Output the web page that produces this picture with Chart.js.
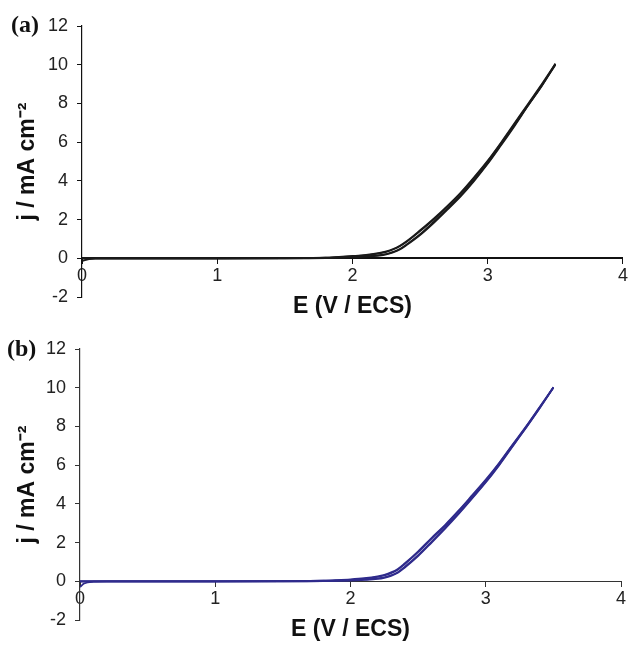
<!DOCTYPE html>
<html>
<head>
<meta charset="utf-8">
<script src="https://cdn.jsdelivr.net/npm/chart.js@4.4.1/dist/chart.umd.min.js"></script>
<style>
  body { margin: 0; background: #fff; }
  #wrap { position: relative; width: 630px; height: 646px; }
  .panel { position: absolute; left: 0; width: 630px; height: 323px; }
  .tag { position: absolute; font: bold 24px "Liberation Serif", "Times New Roman", serif; color: #111; line-height: 1; }
</style>
</head>
<body>
<div id="wrap">
  <div class="panel" style="top:0"><canvas id="chartA" width="630" height="323"></canvas><span class="tag" style="left:11px;top:12px">(a)</span></div>
  <div class="panel" style="top:323px"><canvas id="chartB" width="630" height="323"></canvas><span class="tag" style="left:7px;top:13px">(b)</span></div>
</div>
<script>
// potential sweep points, E (V / ECS)
const potential = [0, 0.03, 0.1, 0.2, 0.5, 1.0, 1.5, 1.8, 1.9, 2.0, 2.1, 2.2, 2.25, 2.3, 2.35, 2.4, 2.5, 2.6, 2.7, 2.8, 2.9, 3.0, 3.1, 3.2, 3.3, 3.4, 3.5];

// (a) current density, mA cm-2 (anodic and cathodic sweeps of two cycles)
const jA_up1   = [-0.15, -0.08, 0, 0, 0, 0, 0.01, 0.03, 0.06, 0.1, 0.15, 0.25, 0.33, 0.45, 0.62, 0.85, 1.4, 2.0, 2.65, 3.35, 4.15, 5.0, 5.95, 6.95, 7.95, 8.95, 10.0];
const jA_down1 = [0, 0, 0, 0, 0, 0, 0, 0.01, 0.03, 0.05, 0.08, 0.14, 0.2, 0.3, 0.45, 0.68, 1.2, 1.82, 2.5, 3.2, 4.0, 4.88, 5.85, 6.85, 7.9, 8.9, 10.0];
const jA_up2   = [0, 0, 0, 0, 0, 0, 0.01, 0.03, 0.07, 0.12, 0.18, 0.28, 0.36, 0.48, 0.65, 0.88, 1.45, 2.05, 2.7, 3.4, 4.2, 5.05, 6.0, 7.0, 8.0, 9.0, 10.05];
const jA_down2 = [0, 0, 0, 0, 0, 0, 0, 0.02, 0.04, 0.06, 0.1, 0.16, 0.22, 0.33, 0.48, 0.72, 1.25, 1.88, 2.55, 3.25, 4.05, 4.92, 5.9, 6.9, 7.92, 8.92, 10.05];

// (b)
const jB_up1   = [-0.3, -0.12, -0.02, 0, 0, 0, 0.01, 0.03, 0.05, 0.08, 0.13, 0.22, 0.3, 0.42, 0.6, 0.88, 1.5, 2.2, 2.88, 3.62, 4.4, 5.2, 6.1, 7.05, 8.0, 9.0, 10.0];
const jB_down1 = [0, 0, 0, 0, 0, 0, 0, 0.01, 0.02, 0.04, 0.07, 0.12, 0.18, 0.28, 0.44, 0.7, 1.3, 2.0, 2.72, 3.48, 4.28, 5.1, 6.0, 6.98, 7.95, 8.95, 10.0];
const jB_up2   = [0, 0, 0, 0, 0, 0, 0.01, 0.03, 0.06, 0.1, 0.16, 0.26, 0.34, 0.46, 0.64, 0.92, 1.55, 2.25, 2.92, 3.66, 4.45, 5.25, 6.12, 7.08, 8.02, 9.02, 10.02];
const jB_down2 = [0, 0, 0, 0, 0, 0, 0, 0.01, 0.03, 0.05, 0.09, 0.15, 0.21, 0.31, 0.47, 0.74, 1.35, 2.05, 2.78, 3.52, 4.32, 5.14, 6.04, 7.0, 7.97, 8.97, 10.02];

const xTicks = [0, 1, 2, 3, 4];
const yTicks = [-2, 0, 2, 4, 6, 8, 10, 12];

const sans = '"Liberation Sans", Arial, sans-serif';

function toPoints(j) {
  return potential.map((e, i) => ({ x: e, y: j[i] }));
}

function makeChart(id, color, series, look) {
  new Chart(document.getElementById(id), {
    type: 'scatter',
    data: {
      datasets: series.map(j => ({
        data: toPoints(j),
        showLine: true,
        borderColor: color,
        borderWidth: 1.7,
        pointRadius: 0,
        cubicInterpolationMode: 'monotone',
        fill: false
      }))
    },
    options: {
      responsive: false,
      animation: false,
      devicePixelRatio: 1,
      layout: { padding: { left: 0, top: 26, right: look.rightPad, bottom: 26 } },
      plugins: { legend: { display: false }, tooltip: { enabled: false } },
      scales: {
        x: {
          type: 'linear',
          position: { y: 0 },
          min: xTicks[0],
          max: xTicks[xTicks.length - 1],
          afterBuildTicks: s => { s.ticks = xTicks.map(v => ({ value: v })); },
          ticks: { color: '#222', font: { family: sans, size: 18 }, padding: 2, maxRotation: 0 },
          grid: { drawOnChartArea: false, drawTicks: true, tickLength: 5, color: look.axis },
          border: { color: look.axis, width: look.xAxisW },
          title: {
            display: true, text: 'E (V / ECS)', color: '#111',
            font: { family: sans, size: 23, weight: 'bold' },
            padding: { top: 4, bottom: 0 }
          }
        },
        y: {
          type: 'linear',
          position: 'left',
          min: yTicks[0],
          max: yTicks[yTicks.length - 1],
          afterBuildTicks: s => { s.ticks = yTicks.map(v => ({ value: v })); },
          afterFit: s => { s.width = look.leftW; },
          ticks: { color: '#222', font: { family: sans, size: 18 }, padding: 9 },
          grid: { drawOnChartArea: false, drawTicks: true, tickLength: 5, color: look.axis },
          border: { color: look.axis, width: 1.2 },
          title: {
            display: true, text: 'j / mA cm⁻²', color: '#111',
            font: { family: sans, size: 23, weight: 'bold' },
            padding: { top: 14, bottom: 0 }
          }
        }
      }
    }
  });
}

makeChart('chartA', '#1a1a1a', [jA_up1, jA_down1, jA_up2, jA_down2],
  { axis: '#111', xAxisW: 2, leftW: 82, rightPad: 7 });
makeChart('chartB', '#2f2b8c', [jB_up1, jB_down1, jB_up2, jB_down2],
  { axis: '#333', xAxisW: 1, leftW: 80, rightPad: 9 });
</script>
</body>
</html>
